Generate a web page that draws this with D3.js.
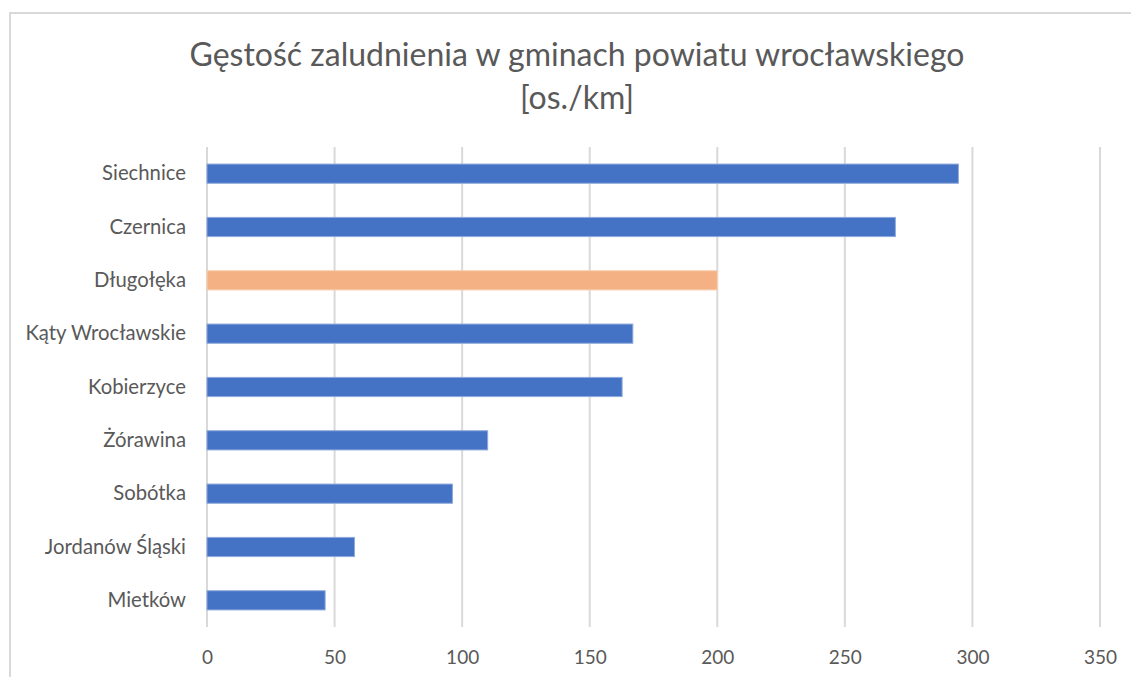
<!DOCTYPE html>
<html>
<head>
<meta charset="utf-8">
<script src="https://cdn.jsdelivr.net/npm/d3@7"></script>
<style>
  html, body { margin: 0; padding: 0; background: #fff; }
  svg { display: block; }
  text { font-family: Lato, "Open Sans", sans-serif; fill: #595959; }
</style>
</head>
<body>
<svg id="chart" width="1131" height="677"></svg>
<script>
const categories = ["Siechnice", "Czernica", "Długołęka", "Kąty Wrocławskie", "Kobierzyce", "Żórawina", "Sobótka", "Jordanów Śląski", "Mietków"];
const values = [294.5, 269.8, 200, 166.9, 162.7, 110, 96.2, 57.8, 46.3];
const highlighted = ["Długołęka"];
const xTicks = [0, 50, 100, 150, 200, 250, 300, 350];
const titleLines = ["Gęstość zaludnienia w gminach powiatu wrocławskiego", "[os./km]"];

const svg = d3.select("#chart");
const W = 1131, H = 677;
const margin = { left: 207, right: 31, top: 147, bottom: 50 };

// chart border (top and left edges visible)
svg.append("path")
  .attr("d", `M10,${H} L10,13 L${W},13`)
  .attr("fill", "none")
  .attr("stroke", "#d9d9d9")
  .attr("stroke-width", 2);

const x = d3.scaleLinear().domain([0, 350]).range([margin.left, W - margin.right]);
const y = d3.scaleBand().domain(categories).range([margin.top, H - margin.bottom]).paddingInner(0.64).paddingOuter(0.32);

// gridlines
svg.append("g").selectAll("line").data(xTicks).join("line")
  .attr("x1", d => x(d)).attr("x2", d => x(d))
  .attr("y1", margin.top).attr("y2", H - margin.bottom)
  .attr("stroke", "#d9d9d9").attr("stroke-width", 2);

// bars
svg.append("g").selectAll("rect").data(categories).join("rect")
  .attr("x", x(0))
  .attr("y", d => y(d))
  .attr("width", (d, i) => x(values[i]) - x(0))
  .attr("height", y.bandwidth())
  .attr("fill", d => highlighted.includes(d) ? "#F4B183" : "#4472C4")
  .attr("stroke", d => highlighted.includes(d) ? "#f8cfb0" : "#8eaadc")
  .attr("stroke-width", 1);

// x axis labels
const xAxis = d3.axisBottom(x).tickValues(xTicks).tickSize(0).tickPadding(0);
const gx = svg.append("g").attr("transform", `translate(0,${H - margin.bottom})`).call(xAxis);
gx.select(".domain").remove();
gx.selectAll("text")
  .attr("dy", null).attr("y", 37)
  .style("font-size", "19px")
  .style("font-family", "Lato, sans-serif")
  .attr("fill", "#595959");

// y axis labels
const yAxis = d3.axisLeft(y).tickSize(0).tickPadding(21);
const gy = svg.append("g").attr("transform", `translate(${x(0)},0)`).call(yAxis);
gy.select(".domain").remove();
gy.selectAll("text")
  .style("font-size", "20.3px")
  .style("font-family", "Lato, sans-serif")
  .attr("fill", "#595959");

// title
svg.append("g").selectAll("text").data(titleLines).join("text")
  .attr("x", 577)
  .attr("y", (d, i) => 66 + i * 43)
  .attr("text-anchor", "middle")
  .style("font-size", "32px")
  .style("font-weight", 400)
  .text(d => d);
</script>
</body>
</html>
